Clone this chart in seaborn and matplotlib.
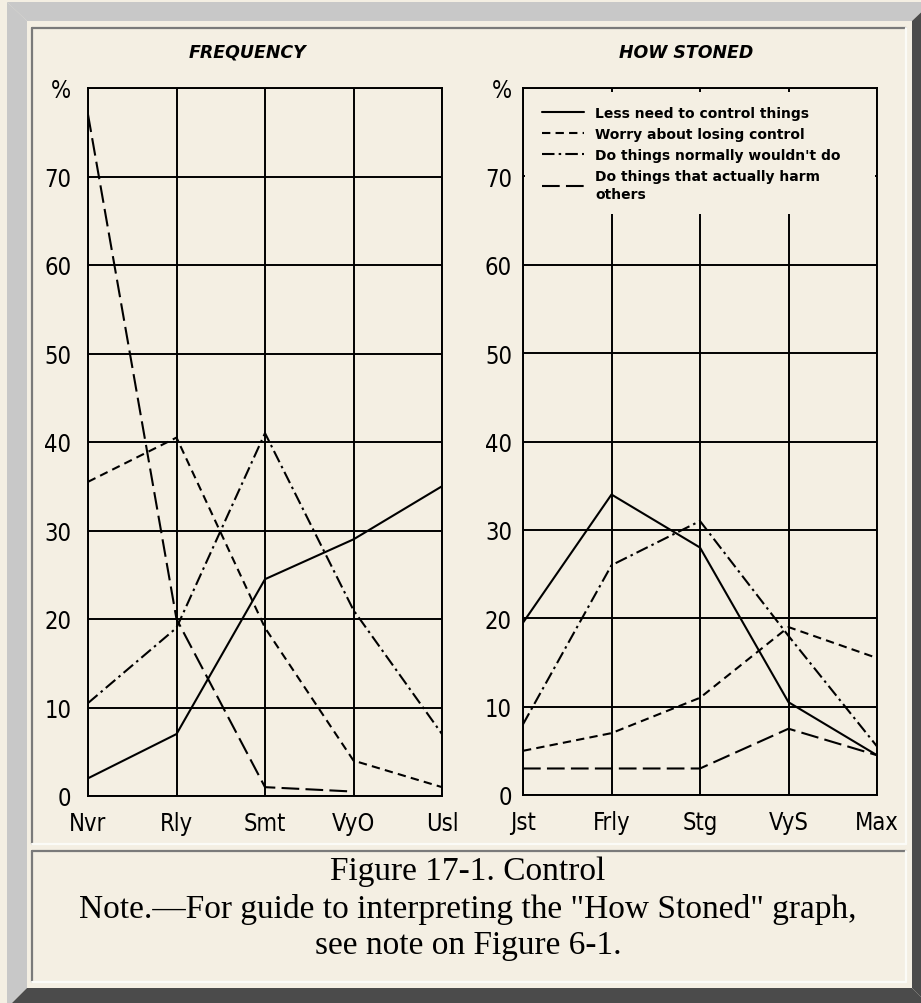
import numpy as np
import pandas as pd
import matplotlib
matplotlib.use("Agg")
import matplotlib.pyplot as plt
import seaborn as sns
from matplotlib.lines import Line2D
from matplotlib.patches import Polygon, Rectangle

# data (percent)
measures = ["Less need to control things", "Worry about losing control",
            "Do things normally wouldn't do", "Do things that actually harm\nothers"]

freq_cats = ["Nvr", "Rly", "Smt", "VyO", "Usl"]
freq_less_need = [2, 7, 24.5, 29, 35]
freq_worry = [35.5, 40.5, 19, 4, 1]
freq_normally = [10.5, 19, 41, 21, 7]
freq_harm = [77, 20, 1, 0.5, np.nan]

stoned_cats = ["Jst", "Frly", "Stg", "VyS", "Max"]
stoned_less_need = [19.5, 34, 28, 10.5, 4.5]
stoned_worry = [5, 7, 11, 19, 15.5]
stoned_normally = [8, 26, 31, 18, 5.5]
stoned_harm = [3, 3, 3, 7.5, 4.5]

ytick_vals = [0, 10, 20, 30, 40, 50, 60, 70, 80]
ytick_labels = ["0", "10", "20", "30", "40", "50", "60", "70", "%"]

dash_map = {measures[0]: "", measures[1]: (4, 2.5),
            measures[2]: (6, 2, 1.2, 2), measures[3]: (8.5, 3)}

BG = "#f4efe3"
LIGHT = "#c8c8c8"
DARK = "#4b4b4b"
W, H = 921, 1004

sns.set_style("white")
plt.rcParams["font.family"] = ["DejaVu Sans"]
plt.rcParams["text.color"] = "black"
plt.rcParams["xtick.color"] = "black"
plt.rcParams["ytick.color"] = "black"

tick_kw = {"family": "DejaVu Sans", "stretch": "condensed", "size": 17}


def fx(x):
    return x / W


def fy(y):
    return 1 - y / H


def long_form(cats, series):
    rows = []
    for name, vals in zip(measures, series):
        for c, v in zip(cats, vals):
            rows.append({"cat": c, "pct": v, "measure": name})
    return pd.DataFrame(rows)


fig = plt.figure(figsize=(W / 100, H / 100), dpi=100, facecolor=BG)

# outer bevelled frame
for pts, col in [
    ([(7, 3), (932, 3), (912, 22), (27, 22)], LIGHT),
    ([(7, 3), (27, 22), (27, 989), (7, 1009)], LIGHT),
    ([(932, 3), (912, 22), (912, 989), (932, 1009)], DARK),
    ([(7, 1009), (27, 989), (912, 989), (932, 1009)], DARK),
]:
    fig.add_artist(Polygon([(fx(a), fy(b)) for a, b in pts], closed=True,
                           transform=fig.transFigure, facecolor=col,
                           edgecolor="none"))


def inset_panel(x0, y0, x1, y1):
    for (a, b, c, d), col in [((x0, y0, x1, y0), "#7a7a7a"), ((x0, y0, x0, y1), "#7a7a7a"),
                              ((x0, y1, x1, y1), "#fbfbf7"), ((x1, y0, x1, y1), "#fbfbf7")]:
        fig.add_artist(Line2D([fx(a), fx(c)], [fy(b), fy(d)], transform=fig.transFigure,
                              color=col, lw=1.6))


inset_panel(32, 29, 906, 845)
inset_panel(32, 852, 906, 983)

panels = [
    (fig.add_axes([fx(88), fy(797), 354 / W, 708 / H]), freq_cats,
     [freq_less_need, freq_worry, freq_normally, freq_harm], 12),
    (fig.add_axes([fx(523), fy(796), 354 / W, 707 / H]), stoned_cats,
     [stoned_less_need, stoned_worry, stoned_normally, stoned_harm], 8),
]

for ax, cats, series, ypad in panels:
    df = long_form(cats, series)
    sns.lineplot(data=df, x="cat", y="pct", style="measure", style_order=measures,
                 dashes=dash_map, color="black", linewidth=1.5, sort=False,
                 errorbar=None, legend=False, ax=ax, zorder=3)
    ax.set_facecolor("none")
    ax.set_xlim(0, len(cats) - 1)
    ax.set_ylim(0, 80)
    ax.set_xticks(range(len(cats)))
    ax.set_xticklabels(cats, **tick_kw)
    ax.set_yticks(ytick_vals)
    ax.set_yticklabels(ytick_labels, **tick_kw)
    ax.tick_params(axis="x", length=0, pad=11)
    ax.tick_params(axis="y", length=0, pad=ypad)
    ax.set_xlabel("")
    ax.set_ylabel("")
    ax.grid(True, color="black", lw=1.4)
    ax.set_axisbelow(True)
    for s in ax.spines.values():
        s.set_color("black")
        s.set_linewidth(1.4)
        s.set_visible(True)

# legend area on the right panel hides the grid
ax2 = panels[1][0]
ax2.add_patch(Rectangle((0.006, 0.822), 0.988, 0.172, transform=ax2.transAxes,
                        facecolor=BG, edgecolor="none", zorder=1))
handles = [Line2D([], [], color="black", lw=1.5, linestyle="-" if dash_map[m] == "" else (0, dash_map[m]))
           for m in measures]
leg = ax2.legend(handles, measures, loc="upper left", bbox_to_anchor=(0.055, 0.975),
                 frameon=False, borderpad=0, borderaxespad=0, handlelength=3.0,
                 handletextpad=0.8, labelspacing=0.5,
                 prop={"family": "DejaVu Sans", "weight": "bold", "size": 10})
leg.set_zorder(5)
leg.get_texts()[-1].set_linespacing(1.45)

fig.text(fx(248), fy(53), "FREQUENCY", ha="center", va="center",
         fontsize=12.5, fontweight="bold", fontstyle="italic")
fig.text(fx(686), fy(53), "HOW STONED", ha="center", va="center",
         fontsize=12.5, fontweight="bold", fontstyle="italic")

cap_font = ["Liberation Serif", "DejaVu Serif"]
fig.text(fx(468), fy(872), "Figure 17-1. Control", ha="center", va="center",
         fontsize=24, family=cap_font)
fig.text(fx(468), fy(910), 'Note.\u2014For guide to interpreting the "How Stoned" graph,',
         ha="center", va="center", fontsize=24, family=cap_font)
fig.text(fx(468), fy(946), "see note on Figure 6-1.", ha="center", va="center",
         fontsize=24, family=cap_font)

fig.savefig("out.png", dpi=100, facecolor=BG)
